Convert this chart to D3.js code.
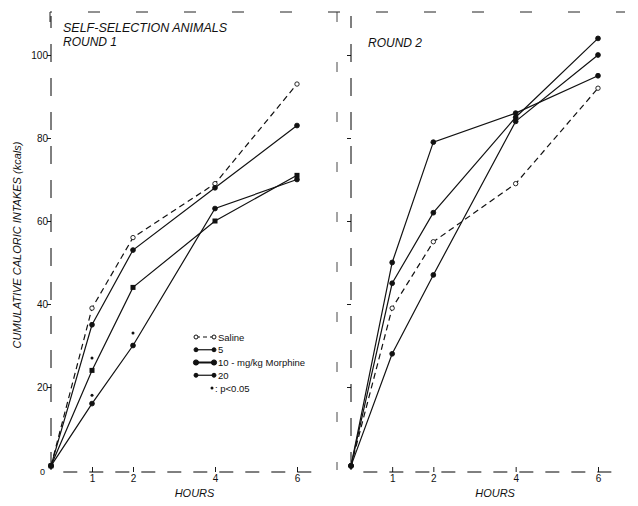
<!DOCTYPE html>
<html>
<head>
<meta charset="utf-8">
<script src="https://cdn.jsdelivr.net/npm/d3@7"></script>
<style>
  body { margin: 0; background: #fff; }
  text { font-family: "Liberation Sans", Arial, sans-serif; fill: #111; }
  .it { font-style: italic; }
</style>
</head>
<body>
<div id="chart"></div>
<script>
// Data
const hours = [0, 1, 2, 4, 6]
const xTicks = [1, 2, 4, 6]
const yTicks = [20, 40, 60, 80, 100]

const r1Saline = [1, 39, 56, 69, 93]
const r1Five = [1, 35, 53, 68, 83]
const r1Ten = [1, 24, 44, 60, 71]
const r1Twenty = [1, 16, 30, 63, 70]
// asterisks (p<0.05)
const r1Stars = [[1, 27], [1, 18], [2, 33]]

const r2Saline = [1, 39, 55, 69, 92]
const r2Five = [1, 45, 62, 85, 104]
const r2Ten = [1, 50, 79, 86, 95]
const r2Twenty = [1, 28, 47, 84, 100]

const legendLabels = ['Saline', '5', '10  - mg/kg Morphine', '20', ': p<0.05']

let dimensions = { width: 638, height: 506 }

const svg = d3.select('#chart')
  .append('svg')
  .attr('width', dimensions.width)
  .attr('height', dimensions.height)

const y = d3.scaleLinear().domain([0, 100]).range([470, 55])
const x1 = d3.scaleLinear().domain([0, 6]).range([51, 297])
const x2 = d3.scaleLinear().domain([0, 6]).range([351, 598])

// frame (broken, like the scan)
svg.append('path')
  .attr('d', 'M50,22V12H625')
  .attr('fill', 'none').attr('stroke', '#222').attr('stroke-width', 1)
  .attr('stroke-dasharray', '12,36')
svg.append('path')
  .attr('d', 'M337,12V470')
  .attr('fill', 'none').attr('stroke', '#333').attr('stroke-width', 0.9)
  .attr('stroke-dasharray', '10,40')

function panel(x, series, showLabels) {
  const g = svg.append('g')

  const yAxis = d3.axisLeft(y).tickValues(yTicks).tickSize(4)
    .tickFormat(showLabels ? d3.format('d') : '')
  g.append('g')
    .attr('transform', `translate(${x(0)},0)`)
    .call(yAxis)
    .call(a => a.select('.domain').attr('d', `M0,470V16`)
      .attr('stroke-dasharray', '18,16').attr('stroke-width', 1))
    .call(a => a.selectAll('.tick line').attr('stroke-width', 0.9))
    .call(a => a.selectAll('text').attr('font-size', 10).attr('x', -3))

  const xAxis = d3.axisBottom(x).tickValues(xTicks).tickSize(-5)
    .tickPadding(3).tickFormat(d3.format('d'))
  g.append('g')
    .attr('transform', 'translate(0,472)')
    .call(xAxis)
    .call(a => a.select('.domain').attr('d', `M${x(0.3)},0H${x(6.6)}`)
      .attr('stroke-dasharray', '14,12').attr('stroke-width', 1))
    .call(a => a.selectAll('.tick line').attr('stroke-width', 0.9))
    .call(a => a.selectAll('text').attr('font-size', 10))

  if (showLabels) {
    g.append('text').attr('x', x(0) - 6).attr('y', 475)
      .attr('font-size', 9).attr('text-anchor', 'end').text('0')
  }

  g.append('text').attr('class', 'it')
    .attr('x', x(3.5)).attr('y', 497)
    .attr('text-anchor', 'middle').attr('font-size', 11)
    .text('HOURS')

  const line = d3.line().x((d, i) => x(hours[i])).y(d => y(d))

  series.forEach(s => {
    g.append('path')
      .datum(s.values)
      .attr('d', line)
      .attr('fill', 'none')
      .attr('stroke', '#111')
      .attr('stroke-width', 1.2)
      .attr('stroke-dasharray', s.dash ? '6,4' : null)

    const pts = s.values.map((v, i) => [hours[i], v])
    if (s.shape === 'square') {
      g.selectAll(null).data(pts).join('rect')
        .attr('x', d => x(d[0]) - 2.5).attr('y', d => y(d[1]) - 2.5)
        .attr('width', 5).attr('height', 5).attr('fill', '#111')
    } else {
      g.selectAll(null).data(pts).join('circle')
        .attr('cx', d => x(d[0])).attr('cy', d => y(d[1]))
        .attr('r', s.shape === 'open' ? 2.2 : 2.4)
        .attr('fill', s.shape === 'open' ? '#fff' : '#111')
        .attr('stroke', '#111').attr('stroke-width', 0.9)
    }
  })
  return g
}

const g1 = panel(x1, [
  { values: r1Saline, dash: true, shape: 'open' },
  { values: r1Five, shape: 'dot' },
  { values: r1Ten, shape: 'square' },
  { values: r1Twenty, shape: 'dot' }
], true)

g1.selectAll(null).data(r1Stars).join('circle')
  .attr('cx', d => x1(d[0])).attr('cy', d => y(d[1]))
  .attr('r', 1.5).attr('fill', '#111')

panel(x2, [
  { values: r2Saline, dash: true, shape: 'open' },
  { values: r2Five, shape: 'dot' },
  { values: r2Ten, shape: 'dot' },
  { values: r2Twenty, shape: 'dot' }
], false)

// titles
svg.append('text').attr('class', 'it').attr('x', 63).attr('y', 32)
  .attr('font-size', 12).attr('textLength', 164).attr('lengthAdjust', 'spacingAndGlyphs')
  .text('SELF-SELECTION ANIMALS')
svg.append('text').attr('class', 'it').attr('x', 63).attr('y', 46)
  .attr('font-size', 12).text('ROUND 1')
svg.append('text').attr('class', 'it').attr('x', 368).attr('y', 47)
  .attr('font-size', 12).text('ROUND 2')

// y label
svg.append('text').attr('class', 'it')
  .attr('transform', 'translate(21,245) rotate(-90)')
  .attr('text-anchor', 'middle').attr('font-size', 11)
  .text('CUMULATIVE CALORIC INTAKES (kcals)')

// legend
const legendY = d3.scalePoint().domain(legendLabels).range([337, 388])
const leg = svg.append('g')
legendLabels.forEach((lab, i) => {
  const ly = legendY(lab)
  if (i < 4) {
    leg.append('line').attr('x1', 196).attr('x2', 214)
      .attr('y1', ly).attr('y2', ly)
      .attr('stroke', '#111').attr('stroke-width', i === 2 ? 2 : 1.2)
      .attr('stroke-dasharray', i === 0 ? '4,3' : null)
    ;[196, 214].forEach(cx => {
      leg.append('circle').attr('cx', cx).attr('cy', ly)
        .attr('r', i === 2 ? 2.6 : 2)
        .attr('fill', i === 0 ? '#fff' : '#111')
        .attr('stroke', '#111')
    })
    leg.append('text').attr('x', 218).attr('y', ly + 3.5)
      .attr('font-size', 9.5).text(lab)
  } else {
    leg.append('circle').attr('cx', 212).attr('cy', ly).attr('r', 1.5).attr('fill', '#111')
    leg.append('text').attr('x', 215).attr('y', ly + 3.5)
      .attr('font-size', 9.5).text(lab)
  }
})
</script>
</body>
</html>
